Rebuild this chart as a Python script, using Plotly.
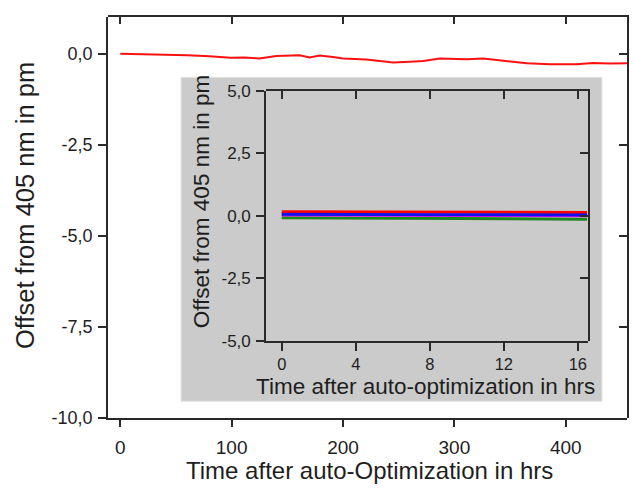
import plotly.graph_objects as go

# ---------------- data ----------------
main_time = [0, 20, 40, 60, 80, 99, 112, 125, 140, 161, 170, 179, 191, 200, 221,
             245, 260, 272, 287, 300, 311, 326, 347, 365, 386, 410, 424, 440, 455]
main_offset = [0.0, -0.01, -0.03, -0.04, -0.07, -0.11, -0.10, -0.13, -0.06, -0.04, -0.10,
               -0.05, -0.09, -0.13, -0.16, -0.24, -0.22, -0.20, -0.13, -0.14, -0.15,
               -0.13, -0.19, -0.26, -0.29, -0.29, -0.25, -0.27, -0.26]

inset_time = [0, 2, 4, 6, 8, 10, 12, 14, 16.5]
inset_red = [0.16, 0.16, 0.15, 0.15, 0.14, 0.14, 0.13, 0.13, 0.13]
inset_green = [-0.08, -0.09, -0.10, -0.11, -0.12, -0.12, -0.13, -0.13, -0.14]
inset_magenta = [0.03, 0.03, 0.02, 0.02, 0.01, 0.01, 0.01, 0.0, 0.0]
inset_blue = [0.06, 0.05, 0.05, 0.04, 0.04, 0.04, 0.03, 0.03, 0.03]

main_yticks = [0, -2.5, -5, -7.5, -10]
main_yticktext = ["0,0", "-2,5", "-5,0", "-7,5", "-10,0"]
main_xticks = [0, 100, 200, 300, 400]
inset_yticks = [5, 2.5, 0, -2.5, -5]
inset_yticktext = ["5,0", "2,5", "0,0", "-2,5", "-5,0"]
inset_xticks = [0, 4, 8, 12, 16]

main_xtitle = "Time after auto-Optimization in hrs"
main_ytitle = "Offset from 405 nm in pm"
inset_xtitle = "Time after auto-optimization in hrs"
inset_ytitle = "Offset from 405 nm in pm"

main_xrange = [-11, 455]
main_yrange = [-10, 1.02]
inset_xrange = [-0.85, 16.55]
inset_yrange = [-5, 5]

FONT = "Liberation Sans, Arial, sans-serif"
AX = "#2a2a2a"
TXT = "#1e1e1e"

W, H = 633, 493
def px(x): return x / W
def py(y): return 1 - y / H

main_xd = [px(108), px(627)]
main_yd = [py(425), py(8)]
in_xd = [px(266), px(588)]
in_yd = [py(345), py(85)]

fig = go.Figure()

fig.add_trace(go.Scatter(x=main_time, y=main_offset, mode="lines",
                         line=dict(color="#ff1010", width=2), xaxis="x", yaxis="y",
                         showlegend=False))
for ys, col in [(inset_green, "#1a8a1a"), (inset_red, "#ff0000"),
                (inset_magenta, "#ff00ff"), (inset_blue, "#1010ee")]:
    fig.add_trace(go.Scatter(x=inset_time, y=ys, mode="lines",
                             line=dict(color=col, width=3), xaxis="x2", yaxis="y2",
                             showlegend=False))
# empty traces to instantiate mirror (tick-only) axes
fig.add_trace(go.Scatter(x=[], y=[], xaxis="x3", yaxis="y3", showlegend=False))
fig.add_trace(go.Scatter(x=[], y=[], xaxis="x4", yaxis="y4", showlegend=False))

def common(fs, standoff):
    return dict(showgrid=False, zeroline=False, showline=True, linecolor=AX, linewidth=1.6,
                ticks="outside", tickcolor=AX, tickwidth=1.5, ticklen=8,
                ticklabelstandoff=standoff,
                tickfont=dict(family=FONT, size=fs, color=TXT))

def mirror():
    return dict(showticklabels=False, showgrid=False, zeroline=False,
                showline=True, linecolor=AX, linewidth=1.6, ticks="inside",
                tickcolor=AX, tickwidth=1.5, ticklen=8)

def title_ann(text, x, y, size, angle=0):
    return dict(text=text, xref="paper", yref="paper", x=px(x), y=py(y),
                xanchor="center", yanchor="middle", showarrow=False, textangle=angle,
                font=dict(family=FONT, size=size, color=TXT))

fig.update_layout(
    width=W, height=H, margin=dict(l=0, r=0, t=0, b=0),
    paper_bgcolor="white", plot_bgcolor="rgba(0,0,0,0)",
    showlegend=False,
    xaxis=dict(domain=main_xd, range=main_xrange, anchor="y", tickvals=main_xticks,
               **common(19, 4)),
    yaxis=dict(domain=main_yd, range=main_yrange, anchor="x", tickvals=main_yticks,
               ticktext=main_yticktext, **common(18, 2)),
    xaxis3=dict(domain=main_xd, range=main_xrange, anchor="y3", side="top",
                tickvals=main_xticks, **mirror()),
    yaxis3=dict(domain=main_yd, range=main_yrange, anchor="x3", side="right",
                tickvals=main_yticks, **mirror()),
    xaxis2=dict(domain=in_xd, range=inset_xrange, anchor="y2", tickvals=inset_xticks,
                **common(16.5, 0)),
    yaxis2=dict(domain=in_yd, range=inset_yrange, anchor="x2", tickvals=inset_yticks,
                ticktext=inset_yticktext, **common(17, 2)),
    xaxis4=dict(domain=in_xd, range=inset_xrange, anchor="y4", side="top",
                tickvals=inset_xticks, **mirror()),
    yaxis4=dict(domain=in_yd, range=inset_yrange, anchor="x4", side="right",
                tickvals=inset_yticks, **mirror()),
    shapes=[dict(type="rect", xref="paper", yref="paper",
                 x0=px(181), x1=px(602), y0=py(408), y1=py(71),
                 fillcolor="#cbcbcb", line=dict(color="#e6e6e6", width=1), layer="below")],
    annotations=[
        title_ann(main_xtitle, 369, 480, 24),
        title_ann(main_ytitle, 25, 205, 25.5, -90),
        title_ann(inset_xtitle, 426, 393, 22.5),
        title_ann(inset_ytitle, 201, 201, 22.5, -90),
    ],
)

fig.write_html("out.html")
